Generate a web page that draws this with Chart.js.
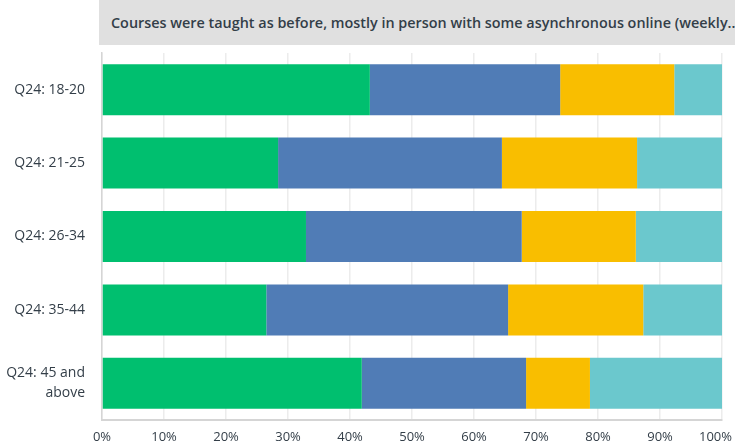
<!doctype html>
<html lang="en">
<head>
  <meta charset="UTF-8" />
  <title>Q24 stacked bars</title>
  <script src="https://cdn.jsdelivr.net/npm/chart.js@4.4.4/dist/chart.umd.min.js"></script>
  <style>
    body {
      margin: 0;
      background: #fff;
      font-family: "Open Sans", Roboto, sans-serif;
    }
    .wrap {
      position: relative;
      width: 735px;
      height: 447px;
    }
    .title {
      position: absolute;
      left: 99px;
      top: 0;
      width: 636px;
      height: 45px;
      background: #e0e0e0;
      color: #333e48;
      font-weight: 600;
      font-size: 14.4px;
      line-height: 45px;
      padding-left: 12px;
      box-sizing: border-box;
      white-space: nowrap;
      overflow: hidden;
    }
    canvas {
      position: absolute;
      left: 0;
      top: 0;
    }
  </style>
</head>
<body>
  <div class="wrap">
    <canvas id="chart" width="735" height="447"></canvas>
    <div class="title">Courses were taught as before, mostly in person with some asynchronous online (weekly..</div>
  </div>

  <script>
    const categories = ['Q24: 18-20', 'Q24: 21-25', 'Q24: 26-34', 'Q24: 35-44', ['Q24: 45 and', 'above']];
    const seriesA = [43.2, 28.4, 32.9, 26.5, 41.9];
    const seriesB = [30.7, 36.1, 34.8, 39.0, 26.5];
    const seriesC = [18.4, 21.8, 18.4, 21.8, 10.3];
    const seriesD = [7.7, 13.7, 13.9, 12.7, 21.3];
    const colors = ['#00bf6f', '#507cb6', '#f9be00', '#6bc8cd'];

    const makeSet = (data, i) => ({
      data,
      backgroundColor: colors[i],
      borderWidth: 0,
      barPercentage: 0.695,
      categoryPercentage: 1
    });

    new Chart(document.getElementById('chart'), {
      type: 'bar',
      data: {
        labels: categories,
        datasets: [seriesA, seriesB, seriesC, seriesD].map(makeSet)
      },
      options: {
        indexAxis: 'y',
        responsive: false,
        animation: false,
        layout: { padding: { top: 53, right: 13, bottom: 0, left: 0 } },
        plugins: { legend: { display: false }, tooltip: { enabled: false } },
        scales: {
          x: {
            stacked: true,
            min: 0,
            max: 100,
            ticks: {
              stepSize: 10,
              // trailing spaces nudge the last label left so it stays on the canvas
              callback: (v) => (v === 100 ? '100%\u2002\u2002' : v + '%'),
              color: '#333e48',
              font: { family: 'Open Sans', size: 13 },
              padding: 9,
              maxRotation: 0
            },
            grid: { color: '#ececec', lineWidth: 1.5, drawTicks: false },
            border: { color: '#d5d5d5', width: 2 },
            afterFit: (s) => {
              s.height = 27;
              s.paddingRight = 0;
              s.paddingLeft = 0;
            }
          },
          y: {
            stacked: true,
            ticks: {
              color: '#333e48',
              font: { family: 'Open Sans', size: 14, lineHeight: 1.4 },
              padding: 9
            },
            grid: { display: false },
            border: { color: '#d5d5d5', width: 1.5 },
            afterFit: (s) => { s.width = 102; }
          }
        }
      }
    });
  </script>
</body>
</html>
